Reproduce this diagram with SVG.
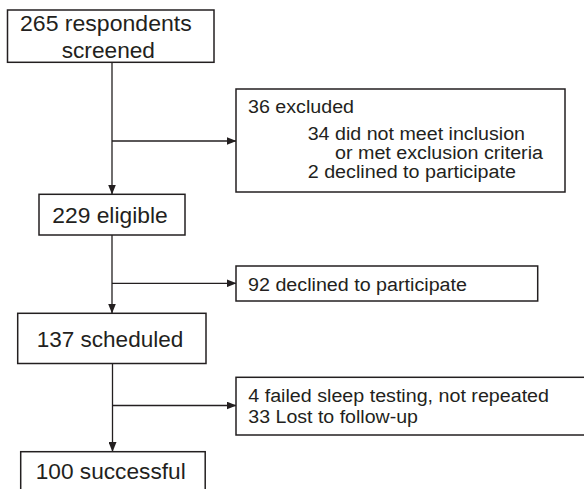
<svg xmlns="http://www.w3.org/2000/svg" width="584" height="489" viewBox="0 0 584 489">
<style>
.box{fill:#fff;stroke:#231f20;stroke-width:1.5}
.big{font-family:"Liberation Sans",Arial,sans-serif;font-size:22px;fill:#231f20}
.sm{font-family:"Liberation Sans",Arial,sans-serif;font-size:18px;fill:#231f20}
.con{fill:none;stroke:#231f20;stroke-width:1.3}
</style>
<defs>
<marker id="arr" markerUnits="userSpaceOnUse" markerWidth="10" markerHeight="8" refX="9.5" refY="4" orient="auto">
<path d="M0,0 L10,4 L0,8 Z" fill="#231f20"/>
</marker>
</defs>
<rect width="584" height="489" fill="#fff"/>
<g id="connectors">
<path class="con" d="M112,62.3 V194" marker-end="url(#arr)"/>
<path class="con" d="M112,141 H236" marker-end="url(#arr)"/>
<path class="con" d="M112,235 V313" marker-end="url(#arr)"/>
<path class="con" d="M112,283.3 H236" marker-end="url(#arr)"/>
<path class="con" d="M112.5,363.5 V451.5" marker-end="url(#arr)"/>
<path class="con" d="M112.5,405.5 H236" marker-end="url(#arr)"/>
</g>
<g id="screened">
<rect class="box" x="7.5" y="10" width="206.5" height="52.3"/>
<text class="big" x="20" y="31" textLength="171.7" lengthAdjust="spacingAndGlyphs">265 respondents</text>
<text class="big" x="61.7" y="57.7" textLength="93.3" lengthAdjust="spacingAndGlyphs">screened</text>
</g>
<g id="excluded">
<rect class="box" x="236" y="89" width="329" height="103"/>
<text class="sm" x="248" y="113" textLength="106" lengthAdjust="spacingAndGlyphs">36 excluded</text>
<text class="sm" x="307.7" y="140" textLength="217.3" lengthAdjust="spacingAndGlyphs">34 did not meet inclusion</text>
<text class="sm" x="335" y="159" textLength="208" lengthAdjust="spacingAndGlyphs">or met exclusion criteria</text>
<text class="sm" x="307.7" y="177.7" textLength="208.3" lengthAdjust="spacingAndGlyphs">2 declined to participate</text>
</g>
<g id="eligible">
<rect class="box" x="39" y="194.3" width="146" height="40.7"/>
<text class="big" x="52.3" y="223.3" textLength="115.4" lengthAdjust="spacingAndGlyphs">229 eligible</text>
</g>
<g id="declined">
<rect class="box" x="236" y="266" width="301.7" height="35"/>
<text class="sm" x="248" y="290.7" textLength="219" lengthAdjust="spacingAndGlyphs">92 declined to participate</text>
</g>
<g id="scheduled">
<rect class="box" x="17.7" y="313.3" width="188.3" height="50.2"/>
<text class="big" x="36.7" y="346.7" textLength="146.6" lengthAdjust="spacingAndGlyphs">137 scheduled</text>
</g>
<g id="lost">
<rect class="box" x="236" y="377.3" width="360" height="57.7"/>
<text class="sm" x="248.3" y="401.7" textLength="300.7" lengthAdjust="spacingAndGlyphs">4 failed sleep testing, not repeated</text>
<text class="sm" x="248.3" y="423.3" textLength="169.7" lengthAdjust="spacingAndGlyphs">33 Lost to follow-up</text>
</g>
<g id="successful">
<rect class="box" x="20.7" y="451.7" width="184.5" height="45"/>
<text class="big" x="35.7" y="479" textLength="150" lengthAdjust="spacingAndGlyphs">100 successful</text>
</g>
</svg>
